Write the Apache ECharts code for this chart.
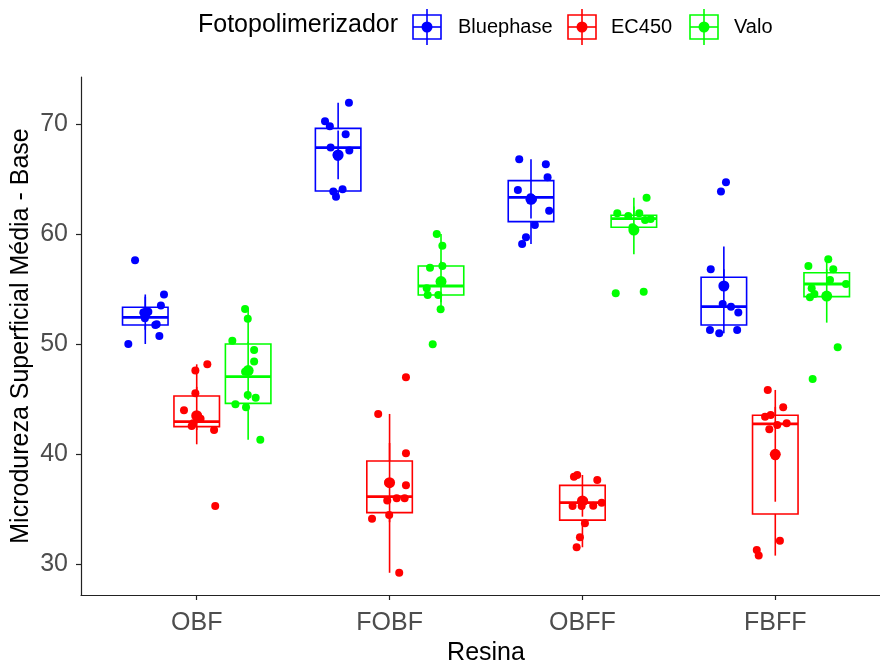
<!DOCTYPE html>
<html>
<head>
<meta charset="utf-8">
<script src="https://cdn.jsdelivr.net/npm/echarts@6/dist/echarts.min.js"></script>
<style>html,body{margin:0;padding:0;background:#fff}#c{width:880px;height:666px}</style>
</head>
<body>
<div id="c"></div>
<script>
// ---------------- DATA ----------------
const categories = ['OBF', 'FOBF', 'OBFF', 'FBFF'];
const groups = ['Bluephase', 'EC450', 'Valo'];
const yTicks = [30, 40, 50, 60, 70];

// jittered observations per category (values) and horizontal jitter (category units)
const bluephaseValues = [
  [57.6, 54.5, 53.5, 52.94, 52.85, 52.33, 51.8, 51.73, 50.73, 50.0],
  [71.94, 70.24, 69.8, 69.06, 67.85, 67.58, 67.18, 67.03, 64.06, 63.85, 63.39],
  [66.79, 66.33, 65.15, 64.0, 63.33, 63.15, 62.12, 60.82, 59.7, 59.09],
  [64.7, 63.85, 56.79, 55.3, 53.64, 53.39, 52.85, 51.27, 51.27, 50.97]
];
const bluephaseJitter = [
  [-0.053, 0.097, 0.081, 0.016, -0.010, -0.002, 0.059, 0.052, 0.073, -0.088],
  [0.056, -0.068, -0.043, 0.039, -0.039, 0.058, -0.008, -0.003, 0.023, -0.025, -0.011],
  [-0.061, 0.077, 0.086, -0.068, -0.002, 0.010, 0.094, 0.020, -0.026, -0.046],
  [0.011, -0.015, -0.068, -0.003, -0.006, 0.037, 0.075, -0.072, 0.069, -0.024]
];
const ec450Values = [
  [48.15, 47.58, 45.52, 43.97, 43.4, 43.2, 42.79, 42.55, 42.18, 35.27],
  [46.97, 43.64, 40.06, 37.4, 37.15, 35.97, 35.97, 35.76, 34.45, 34.12, 29.2],
  [38.09, 37.94, 37.64, 35.7, 35.57, 35.3, 35.27, 35.27, 33.7, 32.43, 31.52],
  [45.82, 44.24, 43.55, 43.39, 42.79, 42.64, 42.24, 39.8, 32.12, 31.27, 30.76]
];
const ec450Jitter = [
  [0.055, -0.007, -0.007, -0.066, 0.0, 0.02, -0.018, -0.026, 0.090, 0.096],
  [0.085, -0.059, 0.085, -0.007, 0.085, 0.037, 0.078, -0.012, -0.002, -0.091, 0.050],
  [-0.027, -0.044, 0.077, 0.009, 0.100, 0.056, -0.051, -0.004, 0.013, -0.013, -0.030],
  [-0.039, 0.041, -0.024, -0.053, 0.059, 0.010, -0.031, 0.0, 0.024, -0.096, -0.086]
];
const valoValues = [
  [53.18, 52.3, 50.3, 49.45, 48.4, 47.48, 45.36, 45.12, 44.52, 44.24, 41.3],
  [60.0, 58.94, 57.09, 56.94, 55.7, 55.06, 54.45, 54.45, 53.15, 49.97],
  [63.3, 61.88, 61.88, 61.64, 61.36, 61.27, 60.61, 60.36, 54.75, 54.6],
  [57.7, 57.09, 56.79, 55.82, 55.45, 55.06, 54.55, 54.36, 54.24, 49.7, 46.82]
];
const valoJitter = [
  [-0.016, -0.002, -0.082, 0.031, 0.031, -0.016, -0.002, 0.039, -0.066, -0.011, 0.063],
  [-0.022, 0.007, 0.007, -0.057, 0.004, -0.074, -0.069, -0.014, -0.002, -0.043],
  [0.066, -0.086, 0.028, -0.029, 0.087, 0.058, -0.007, 0.0, 0.051, -0.094],
  [0.008, -0.095, 0.034, 0.017, 0.100, -0.078, -0.064, -0.004, -0.087, 0.057, -0.073]
];

// box statistics: [lower whisker, Q1, median, Q3, upper whisker]
const bluephaseBox = [[50.0, 51.73, 52.42, 53.34, 54.5], [63.39, 63.9, 67.85, 69.6, 71.94], [59.09, 61.12, 63.33, 64.85, 66.79], [50.97, 51.73, 53.39, 56.06, 56.79]];
const ec450Box = [[42.18, 42.49, 42.94, 45.27, 48.15], [29.2, 34.67, 36.12, 39.36, 43.64], [31.52, 33.99, 35.57, 37.15, 38.09], [30.76, 34.55, 42.73, 43.52, 45.82]];
const valoBox = [[41.3, 44.6, 47.03, 50.0, 53.18], [53.15, 54.45, 55.27, 57.09, 60.0], [60.36, 60.61, 61.4, 61.7, 63.3], [54.24, 54.3, 55.45, 56.48, 57.7]];

// mean and 95% confidence interval
const bluephaseMean = [52.79, 67.18, 63.15, 55.27];
const bluephaseCI = [[51.3, 54.3], [64.97, 69.4], [61.4, 64.9], [51.7, 58.85]];
const ec450Mean = [43.48, 37.39, 35.73, 39.97];
const ec450CI = [[40.88, 46.1], [33.8, 41.0], [34.3, 37.1], [35.66, 44.28]];
const valoMean = [47.58, 55.67, 60.36, 54.36];
const valoCI = [[44.9, 50.2], [53.8, 57.5], [58.15, 62.5], [51.94, 56.8]];

// ---------------- CHART ----------------
const colors = ['#0000FF', '#FF0000', '#00FF00'];
const dodge = [-0.2667, 0, 0.2667];
const boxWidth = 0.236;
const FONT = 'Liberation Sans, Arial, sans-serif';

const allValues = [bluephaseValues, ec450Values, valoValues];
const allJitter = [bluephaseJitter, ec450Jitter, valoJitter];
const allBox = [bluephaseBox, ec450Box, valoBox];
const allMean = [bluephaseMean, ec450Mean, valoMean];
const allCI = [bluephaseCI, ec450CI, valoCI];

const series = [];
groups.forEach((g, gi) => {
  const col = colors[gi];
  // boxes
  series.push({
    type: 'custom', name: g, z: 2, silent: true,
    data: categories.map((c, ci) => [ci + 1].concat(allBox[gi][ci])),
    renderItem: (params, api) => {
      const x = api.value(0) + dodge[gi];
      const lo = api.coord([x, api.value(1)]);
      const q1 = api.coord([x, api.value(2)]);
      const md = api.coord([x, api.value(3)]);
      const q3 = api.coord([x, api.value(4)]);
      const hi = api.coord([x, api.value(5)]);
      const hw = api.size([boxWidth, 0])[0] / 2;
      const st = { stroke: col, lineWidth: 1.6, fill: null };
      return {
        type: 'group', children: [
          { type: 'line', shape: { x1: q3[0], y1: q3[1], x2: hi[0], y2: hi[1] }, style: st },
          { type: 'line', shape: { x1: q1[0], y1: q1[1], x2: lo[0], y2: lo[1] }, style: st },
          { type: 'rect', shape: { x: q3[0] - hw, y: q3[1], width: 2 * hw, height: q1[1] - q3[1] }, style: { stroke: col, lineWidth: 1.6, fill: 'rgba(255,255,255,0)' } },
          { type: 'line', shape: { x1: md[0] - hw, y1: md[1], x2: md[0] + hw, y2: md[1] }, style: { stroke: col, lineWidth: 2.8 } }
        ]
      };
    }
  });
  // jittered points
  const pts = [];
  categories.forEach((c, ci) => {
    allValues[gi][ci].forEach((v, k) => pts.push([ci + 1 + dodge[gi] + allJitter[gi][ci][k], v]));
  });
  series.push({
    type: 'scatter', name: g + ' pts', z: 3, silent: true,
    symbol: 'circle', symbolSize: 8,
    itemStyle: { color: col, opacity: 1 },
    data: pts
  });
  // mean + CI
  series.push({
    type: 'custom', name: g + ' mean', z: 4, silent: true,
    data: categories.map((c, ci) => [ci + 1, allMean[gi][ci], allCI[gi][ci][0], allCI[gi][ci][1]]),
    renderItem: (params, api) => {
      const x = api.value(0) + dodge[gi];
      const m = api.coord([x, api.value(1)]);
      const lo = api.coord([x, api.value(2)]);
      const hi = api.coord([x, api.value(3)]);
      return {
        type: 'group', children: [
          { type: 'line', shape: { x1: lo[0], y1: lo[1], x2: hi[0], y2: hi[1] }, style: { stroke: col, lineWidth: 1.6 } },
          { type: 'circle', shape: { cx: m[0], cy: m[1], r: 5.5 }, style: { fill: col } }
        ]
      };
    }
  });
});

// legend drawn as graphic elements
const legendY = 27;
const keyX = [427, 582, 704];
const labelX = [458, 611, 734];
const legendChildren = [
  { type: 'text', left: 198, top: legendY - 14, style: { text: 'Fotopolimerizador', font: '25px ' + FONT, fill: '#000' } }
];
groups.forEach((g, gi) => {
  const cx = keyX[gi], col = colors[gi];
  legendChildren.push(
    { type: 'rect', shape: { x: cx - 14, y: legendY - 12, width: 28, height: 24 }, style: { stroke: col, lineWidth: 1.6, fill: '#fff' } },
    { type: 'line', shape: { x1: cx - 14, y1: legendY, x2: cx + 14, y2: legendY }, style: { stroke: col, lineWidth: 1.6 } },
    { type: 'line', shape: { x1: cx, y1: legendY - 18, x2: cx, y2: legendY + 18 }, style: { stroke: col, lineWidth: 1.6 } },
    { type: 'circle', shape: { cx: cx, cy: legendY, r: 5.5 }, style: { fill: col } },
    { type: 'text', x: labelX[gi], y: legendY, style: { text: g, font: '20px ' + FONT, fill: '#000', textVerticalAlign: 'middle' } }
  );
});

const chart = echarts.init(document.getElementById('c'), null, { renderer: 'canvas' });
chart.setOption({
  animation: false,
  backgroundColor: '#fff',
  grid: { left: 81, top: 77, width: 810, height: 518, containLabel: false, outerBoundsMode: 'none' },
  xAxis: {
    type: 'value', min: 0.4, max: 4.6,
    name: 'Resina', nameLocation: 'middle', nameGap: 46, nameMoveOverlap: false,
    nameTextStyle: { fontFamily: FONT, fontSize: 25, color: '#000' },
    axisLine: { lineStyle: { color: '#222', width: 1.2 } },
    axisTick: { show: true, length: 5, lineStyle: { color: '#222', width: 1.2 }, customValues: [1, 2, 3, 4] },
    axisLabel: { customValues: [1, 2, 3, 4], formatter: v => categories[Math.round(v) - 1] || '', fontFamily: FONT, fontSize: 25, color: '#4D4D4D', margin: 16 },
    splitLine: { show: false }
  },
  yAxis: {
    type: 'value', min: 27.18, max: 74.27,
    name: 'Microdureza Superficial Média - Base', nameLocation: 'middle', nameGap: 47, nameMoveOverlap: false,
    nameTextStyle: { fontFamily: FONT, fontSize: 25, color: '#000' },
    axisLine: { show: true, lineStyle: { color: '#222', width: 1.2 } },
    axisTick: { show: true, length: 5, lineStyle: { color: '#222', width: 1.2 }, customValues: yTicks },
    axisLabel: { customValues: yTicks, fontFamily: FONT, fontSize: 25, color: '#4D4D4D', margin: 13 },
    splitLine: { show: false }
  },
  graphic: [{ type: 'group', children: legendChildren }],
  series: series
});
</script>
</body>
</html>
